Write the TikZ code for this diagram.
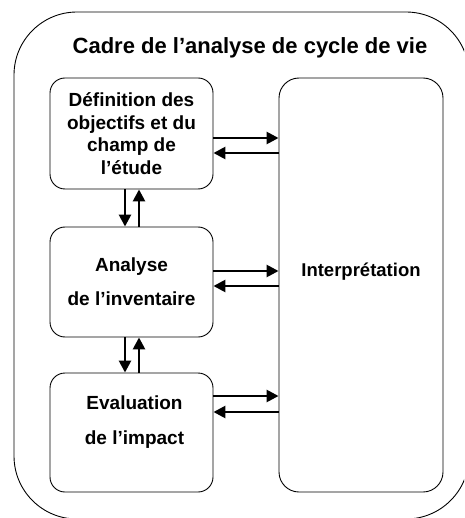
\documentclass[tikz,border=0pt]{standalone}
\usepackage{fontspec}
\setmainfont{Liberation Sans}
\usetikzlibrary{arrows.meta,calc}
\begin{document}
\begin{tikzpicture}[x=1pt,y=-1pt,
  box/.style={draw, rounded corners=15pt, line width=0.9pt, minimum width=163pt, inner sep=0pt},
  lbl/.style={align=center, inner sep=0pt},
  arr/.style={line width=2.6pt, -{Triangle[length=12pt,width=12pt]}}]
\useasboundingbox (0,0) rectangle (464,518);
\begin{scope}
\clip (0,0) rectangle (464,518);
\draw[rounded corners=63pt, line width=0.9pt] (14,12) rectangle (469,519);
\end{scope}
\node[font=\fontsize{22}{26}\selectfont\bfseries] (title) at (250,48) {Cadre de l’analyse de cycle de vie};
% boxes
\node[box, minimum height=111pt] (def) at (131.5,133.5) {};
\node[lbl, font=\fontsize{19}{22.7}\selectfont\bfseries] (deft) at (def.center) {Définition des\\objectifs et du\\champ de\\l’étude};
\node[box, minimum height=110pt] (ana) at (131.5,282) {};
\node[lbl, font=\fontsize{19}{34}\selectfont\bfseries] (anat) at (ana.center) {Analyse\\de l’inventaire};
\node[box, minimum height=119pt] (eva) at (131.5,432.5) {};
\node[lbl, font=\fontsize{19}{35}\selectfont\bfseries] (evat) at ($(eva.center)+(3,-10.5)$) {Evaluation\\de l’impact};
\node[box, rounded corners=20pt, minimum width=164pt, minimum height=414pt] (int) at (361,285) {};
\node[lbl, font=\fontsize{18.5}{22}\selectfont\bfseries] (intt) at ($(int.center)+(0,-13)$) {Interprétation};
% horizontal arrows
\draw[arr] ($(def.east)+(0,4.5)$) -- ($(def.east -| int.west)+(0,4.5)$);
\draw[arr] ($(def.east -| int.west)+(0,19.5)$) -- ($(def.east)+(0,19.5)$);
\draw[arr] ($(ana.east)+(0,-11)$) -- ($(ana.east -| int.west)+(0,-11)$);
\draw[arr] ($(ana.east -| int.west)+(0,4)$) -- ($(ana.east)+(0,4)$);
\draw[arr] ($(eva.east)+(0,-36.5)$) -- ($(eva.east -| int.west)+(0,-36.5)$);
\draw[arr] ($(eva.east -| int.west)+(0,-20.5)$) -- ($(eva.east)+(0,-20.5)$);
% vertical arrows
\draw[arr] ($(def.south)+(-6.5,0)$) -- ($(ana.north)+(-6.5,0)$);
\draw[arr] ($(ana.north)+(7.5,0)$) -- ($(def.south)+(7.5,0)$);
\draw[arr] ($(ana.south)+(-6.5,0)$) -- ($(eva.north)+(-6.5,0)$);
\draw[arr] ($(eva.north)+(7.5,0)$) -- ($(ana.south)+(7.5,0)$);
\end{tikzpicture}
\end{document}
